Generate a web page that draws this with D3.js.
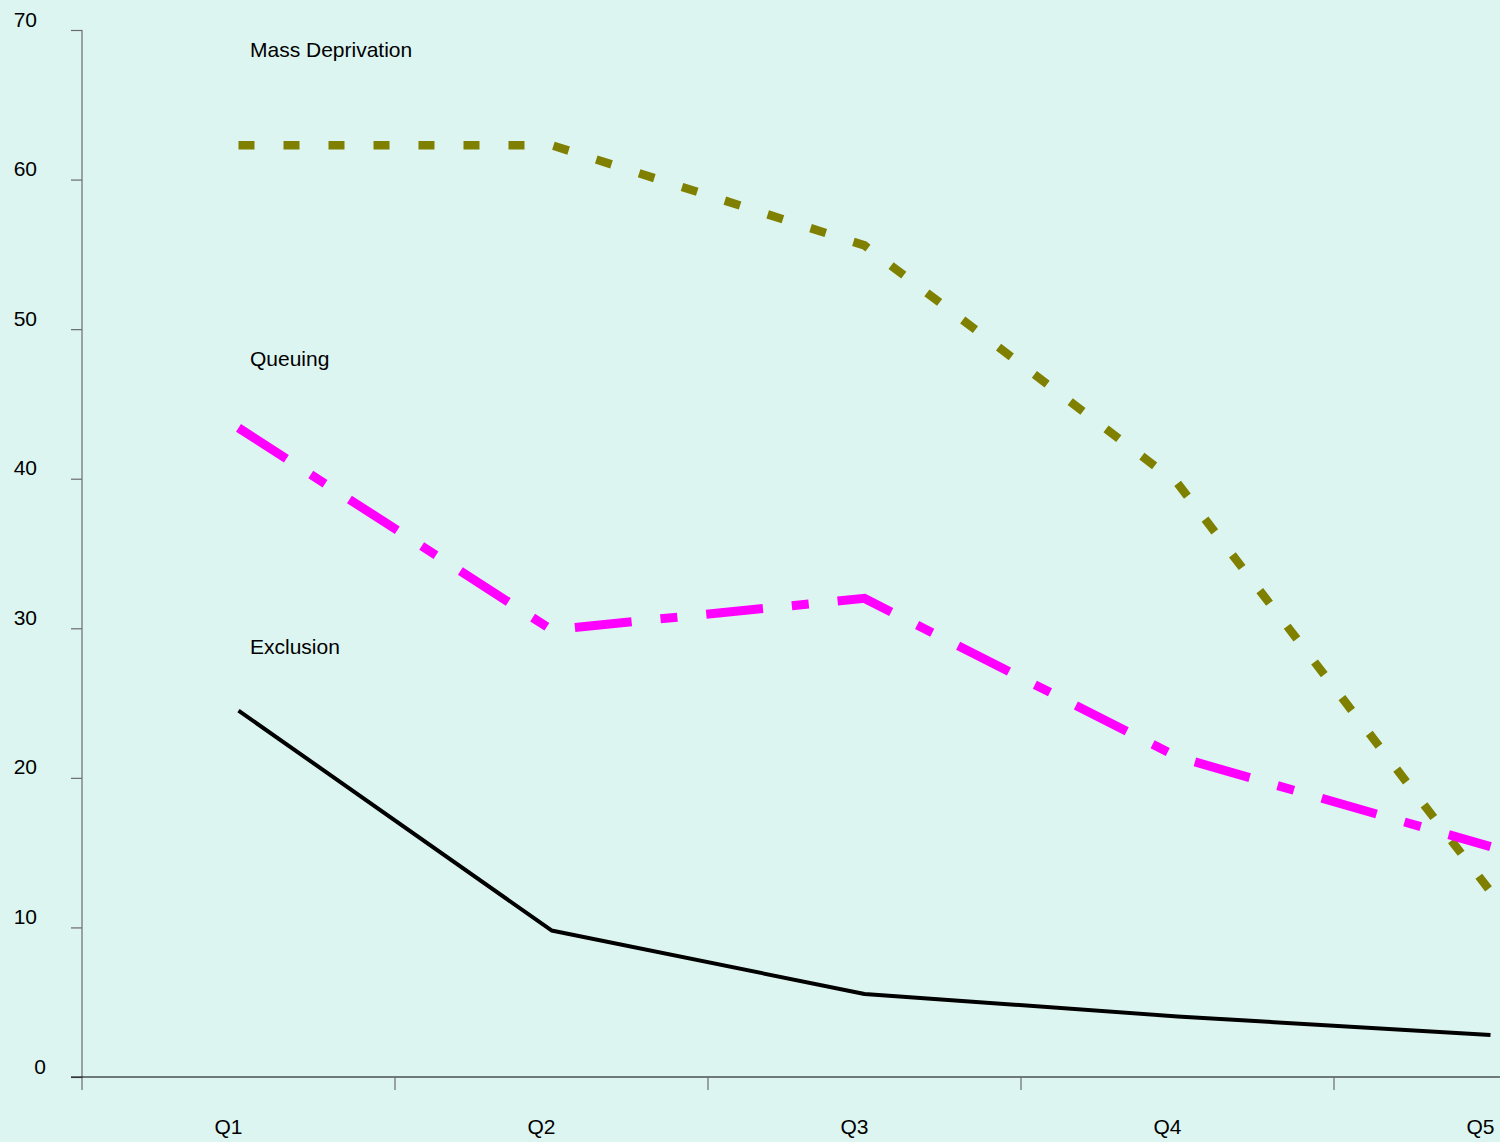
<!DOCTYPE html>
<html><head><meta charset="utf-8">
<script src="https://cdn.jsdelivr.net/npm/d3@7"></script>
<style>
html,body{margin:0;padding:0;background:#ddf5f0;}
svg{display:block;font-family:"Liberation Sans",Arial,sans-serif;}
</style></head>
<body>
<script>
const quarters = ["Q1","Q2","Q3","Q4","Q5"];
const massDeprivation = [62.3, 62.3, 55.6, 39.7, 12.4];
const queuing = [43.4, 29.9, 32.0, 21.4, 15.4];
const exclusion = [24.5, 9.8, 5.55, 4.05, 2.8];
const yTicks = [0,10,20,30,40,50,60,70];
const seriesNames = ["Mass Deprivation","Queuing","Exclusion"];

const W = 1500, H = 1142;
const svg = d3.select("body").append("svg").attr("width", W).attr("height", H);
svg.append("rect").attr("width", W).attr("height", H).attr("fill", "#ddf5f0");

const y = d3.scaleLinear().domain([0,70]).range([1077,30]);
const x = d3.scaleBand().domain(quarters).range([82,1647]);
const cx = q => x(q) + x.bandwidth()/2;

// y axis
const yAxis = d3.axisLeft(y).tickValues(yTicks).tickSize(11).tickSizeOuter(0).tickPadding(0);
const gy = svg.append("g").attr("transform","translate(82,0)").call(yAxis);
gy.select(".domain").remove();
gy.selectAll(".tick line").attr("stroke","#6b6b6b").attr("stroke-width",1.2);
gy.selectAll(".tick text")
  .attr("x", d => d === 0 ? -36 : -45)
  .attr("dy", 0).attr("y", -4)
  .attr("text-anchor","end")
  .attr("font-size", 21).attr("fill","#000")
  .style("font-family",'"Liberation Sans",Arial,sans-serif');
svg.append("line").attr("x1",82).attr("x2",82).attr("y1",y(70)).attr("y2",1090)
  .attr("stroke","#6b6b6b").attr("stroke-width",1.2);

// x axis
svg.append("line").attr("x1",71).attr("x2",W).attr("y1",y(0)).attr("y2",y(0))
  .attr("stroke","#000").attr("stroke-width",1.2);
svg.selectAll(".xtick").data(quarters.slice(1)).enter().append("line")
  .attr("x1", d => x(d)).attr("x2", d => x(d)).attr("y1", y(0)).attr("y2", y(0)+13)
  .attr("stroke","#6b6b6b").attr("stroke-width",1.2);
svg.selectAll(".xlab").data(quarters).enter().append("text")
  .attr("x", d => cx(d) - 10).attr("y", 1134)
  .attr("text-anchor","middle").attr("font-size",21).attr("fill","#000")
  .text(d => d);

// lines
const line = d3.line().x((d,i) => cx(quarters[i])).y(d => y(d));
svg.append("path").datum(massDeprivation).attr("d", line)
  .attr("fill","none").attr("stroke","#808000").attr("stroke-width",8.5)
  .attr("stroke-dasharray","16,29").attr("stroke-linejoin","miter");
svg.append("path").datum(queuing).attr("d", line)
  .attr("fill","none").attr("stroke","#ff00ff").attr("stroke-width",9)
  .attr("stroke-dasharray","57,29,17,29").attr("stroke-linejoin","miter");
svg.append("path").datum(exclusion).attr("d", line)
  .attr("fill","none").attr("stroke","#000").attr("stroke-width",4)
  .attr("stroke-linejoin","round");

// series labels
const labelY = [57, 366, 654];
svg.selectAll(".slab").data(seriesNames).enter().append("text")
  .attr("x", 250).attr("y", (d,i) => labelY[i])
  .attr("font-size",21).attr("fill","#000").text(d => d);
</script>
</body></html>
